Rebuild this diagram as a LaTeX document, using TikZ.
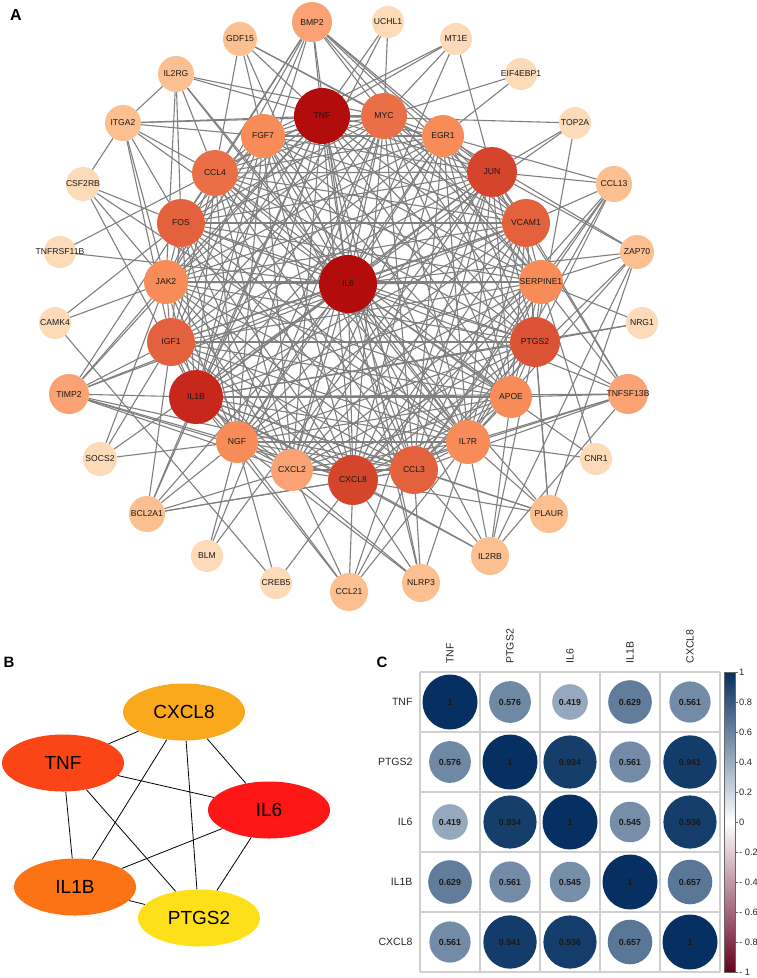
\documentclass[tikz,border=0pt]{standalone}
\usepackage{fontspec}
\setmainfont{Liberation Sans}
\usetikzlibrary{shapes.geometric,backgrounds}
\definecolor{ca}{HTML}{B30C0C}
\definecolor{cb}{HTML}{C8281C}
\definecolor{cc}{HTML}{D5452B}
\definecolor{cd}{HTML}{DC5234}
\definecolor{ce}{HTML}{E4613D}
\definecolor{cf}{HTML}{EB6F46}
\definecolor{cg}{HTML}{F88C58}
\definecolor{ch}{HTML}{FAA273}
\definecolor{ci}{HTML}{FCBF90}
\definecolor{cj}{HTML}{FDDBB9}
\definecolor{edgegray}{HTML}{7F7F7F}
\definecolor{cnavy}{HTML}{053061}
\definecolor{cdred}{HTML}{67001F}
\definecolor{gridgray}{HTML}{CFCFCF}
\definecolor{bcx}{HTML}{FBA91C}
\definecolor{btnf}{HTML}{FC4516}
\definecolor{bil6}{HTML}{FF1616}
\definecolor{bil1b}{HTML}{FB7314}
\definecolor{bptgs}{HTML}{FEE01A}
\begin{document}
\begin{tikzpicture}[x=1pt,y=-1pt,
  gene/.style={circle,inner sep=0pt},
  genetext/.style={text=black!90,font=\fontsize{8.6}{9}\selectfont,inner sep=0pt},
  edge/.style={draw=edgegray,line width=1.1pt},
  bnode/.style={ellipse,inner sep=0pt,minimum width=122pt,minimum height=57pt,font=\fontsize{19}{21}\selectfont},
  bedge/.style={draw=black,line width=0.8pt},
  plabel/.style={font=\bfseries\fontsize{16}{18}\selectfont},
  clab/.style={font=\fontsize{10.5}{12}\selectfont,text=black!85},
  cnum/.style={circle,inner sep=0pt,font=\bfseries\fontsize{8.8}{9}\selectfont,text=black!90},
  tick/.style={font=\fontsize{9.3}{10}\selectfont,text=black!85,anchor=west,inner sep=0pt}]
\useasboundingbox (0,0) rectangle (757,978);
% ---------------- Panel A
\node[plabel] (labA) at (16,15) {A};
\foreach \n/\x/\y/\r/\c in {
 TNF/322/116/28/ca, IL6/348/284/29/ca, IL1B/196/397/27/cb, JUN/492/172/25/cc, CXCL8/353/480/25/cc,
 PTGS2/535/342/25/cd, VCAM1/526/223/24/ce, FOS/181/223/24/ce, IGF1/171/342/24/ce, CCL3/414/470/24/ce,
 MYC/384/116/23/cf, CCL4/215/173/23/cf,
 FGF7/263/136/22/cg, EGR1/443/136/21/cg, JAK2/166/282/22/cg, SERPINE1/541/282/22/cg, NGF/237/442/21/cg,
 APOE/511/397/21/cg, IL7R/468/442/22/cg,
 BMP2/312/22/20/ch, CXCL2/292/470/21/ch, TIMP2/69/394/20/ch, TNFSF13B/628/394/20/ch,
 GDF15/240/39/17/ci, IL2RG/176/74/18/ci, ITGA2/123/123/18/ci, CCL13/614/184/18/ci, ZAP70/637/252/17/ci,
 BCL2A1/147/514/18/ci, PLAUR/549/514/19/ci, IL2RB/490/556/19/ci, NLRP3/421/583/19/ci, CCL21/349/592/19/ci,
 UCHL1/388/22/16/cj, MT1E/456/39/16/cj, EIF4EBP1/521/74/16/cj, TOP2A/575/123/16/cj, CSF2RB/83/184/17/cj,
 TNFRSF11B/60/252/16/cj, CAMK4/55/323/16/cj, SOCS2/100/459/17/cj, BLM/207/556/16/cj, CREB5/276/583/16/cj,
 CNR1/596/459/16/cj, NRG1/642/323/16/cj}
 \node[gene,fill=\c,minimum size=2*\r pt,label={[genetext]center:\n}] (\n) at (\x,\y) {};
\begin{pgfonlayer}{background}
\foreach \a [count=\i] in {TNF,MYC,EGR1,JUN,VCAM1,SERPINE1,PTGS2,APOE,IL7R,CCL3,CXCL8,CXCL2,NGF,IL1B,IGF1,JAK2,FOS,CCL4,FGF7,IL6}{
  \foreach \b [count=\j] in {TNF,MYC,EGR1,JUN,VCAM1,SERPINE1,PTGS2,APOE,IL7R,CCL3,CXCL8,CXCL2,NGF,IL1B,IGF1,JAK2,FOS,CCL4,FGF7,IL6}{
    \ifnum\j>\i \draw[edge] (\a) -- (\b); \fi }}
\foreach \a/\b in {
 BMP2/TNF,BMP2/MYC,BMP2/FGF7,BMP2/CCL4,BMP2/IL6,BMP2/FOS,BMP2/JUN,BMP2/EGR1,BMP2/IL1B,BMP2/JAK2,BMP2/VCAM1,BMP2/SERPINE1,
 UCHL1/MYC,UCHL1/TNF,UCHL1/IL1B,
 MT1E/TNF,MT1E/MYC,MT1E/FGF7,MT1E/IL6,MT1E/JUN,
 EIF4EBP1/MYC,EIF4EBP1/EGR1,
 TOP2A/TNF,TOP2A/JUN,TOP2A/IL6,TOP2A/PTGS2,
 CCL13/EGR1,CCL13/JUN,CCL13/VCAM1,CCL13/SERPINE1,CCL13/PTGS2,CCL13/IL7R,CCL13/CCL3,CCL13/CXCL8,
 ZAP70/JUN,ZAP70/EGR1,ZAP70/SERPINE1,ZAP70/IL6,ZAP70/IL7R,ZAP70/IL2RB,ZAP70/CCL3,
 NRG1/SERPINE1,NRG1/PTGS2,NRG1/IL1B,
 TNFSF13B/PTGS2,TNFSF13B/SERPINE1,TNFSF13B/APOE,TNFSF13B/IL7R,TNFSF13B/CCL3,TNFSF13B/IL6,TNFSF13B/VCAM1,TNFSF13B/JUN,TNFSF13B/CXCL8,TNFSF13B/IL1B,
 CNR1/SERPINE1,CNR1/IL7R,CNR1/IL6,
 PLAUR/IL6,PLAUR/PTGS2,PLAUR/IL7R,PLAUR/CCL3,PLAUR/CXCL8,PLAUR/IL1B,PLAUR/ZAP70,PLAUR/VCAM1,
 IL2RB/IL7R,IL2RB/CCL3,IL2RB/APOE,IL2RB/PTGS2,IL2RB/CXCL8,IL2RB/IL1B,IL2RB/TNFSF13B,IL2RB/IL6,
 NLRP3/CCL3,NLRP3/IL7R,NLRP3/CXCL8,NLRP3/IL1B,NLRP3/TNF,NLRP3/IL6,NLRP3/NGF,
 CCL21/CXCL8,CCL21/CCL3,CCL21/CXCL2,CCL21/NGF,CCL21/IL7R,CCL21/IL1B,CCL21/JUN,
 CREB5/CAMK4,CREB5/NGF,CREB5/CXCL8,
 BLM/NGF,BLM/JUN,BLM/MYC,
 BCL2A1/IL1B,BCL2A1/IGF1,BCL2A1/NGF,BCL2A1/CXCL2,BCL2A1/CXCL8,BCL2A1/CCL3,BCL2A1/TNF,BCL2A1/IL6,
 SOCS2/JAK2,SOCS2/IGF1,SOCS2/NGF,SOCS2/IL6,
 TIMP2/JAK2,TIMP2/IGF1,TIMP2/IL1B,TIMP2/NGF,TIMP2/CXCL2,TIMP2/CCL3,TIMP2/FOS,TIMP2/TNF,TIMP2/IL6,TIMP2/CXCL8,TIMP2/VCAM1,
 CAMK4/JAK2,CAMK4/FOS,
 TNFRSF11B/IL6,TNFRSF11B/TNF,
 CSF2RB/ITGA2,CSF2RB/FOS,CSF2RB/JAK2,CSF2RB/IL1B,CSF2RB/IL7R,
 ITGA2/IL2RG,ITGA2/TNF,ITGA2/FGF7,ITGA2/CCL4,ITGA2/FOS,ITGA2/JAK2,ITGA2/IGF1,ITGA2/IL6,ITGA2/MYC,
 IL2RG/TNF,IL2RG/MYC,IL2RG/CCL4,IL2RG/FOS,IL2RG/JAK2,IL2RG/IL7R,IL2RG/IL6,
 GDF15/TNF,GDF15/FGF7,GDF15/IL6,GDF15/CCL4,GDF15/MYC,GDF15/JUN}
 \draw[edge] (\a) -- (\b);
\end{pgfonlayer}
% ---------------- Panel B
\node[plabel,font=\bfseries\fontsize{15}{17}\selectfont] (labB) at (9,662) {B};
\node[bnode,fill=bcx] (bCXCL8) at (184,712) {CXCL8};
\node[bnode,fill=btnf] (bTNF) at (63,763) {TNF};
\node[bnode,fill=bil6] (bIL6) at (269,810) {IL6};
\node[bnode,fill=bil1b] (bIL1B) at (75,887) {IL1B};
\node[bnode,fill=bptgs] (bPTGS2) at (199,918) {PTGS2};
\begin{pgfonlayer}{background}
\foreach \a/\b in {bTNF/bCXCL8,bCXCL8/bIL6,bCXCL8/bIL1B,bCXCL8/bPTGS2,bTNF/bIL6,bTNF/bIL1B,bTNF/bPTGS2,bIL6/bIL1B,bIL6/bPTGS2,bIL1B/bPTGS2}
  \draw[bedge] (\a) -- (\b);
\end{pgfonlayer}
% ---------------- Panel C
\node[plabel,font=\bfseries\fontsize{15}{17}\selectfont] (labC) at (382,662) {C};
\foreach \i in {0,...,5}{
  \draw[gridgray,line width=1.1pt] (420+60*\i,672) -- (420+60*\i,972);
  \draw[gridgray,line width=1.1pt] (420,672+60*\i) -- (720,672+60*\i);}
\foreach \lab [count=\k] in {TNF,PTGS2,IL6,IL1B,CXCL8}{
  \node[clab,anchor=east] (row\k) at (416,642+60*\k) {\lab};
  \node[clab,anchor=west,rotate=90] (col\k) at (390+60*\k,667) {\lab};}
\foreach \r/\vals in {1/{1,0.576,0.419,0.629,0.561},2/{0.576,1,0.934,0.561,0.941},3/{0.419,0.934,1,0.545,0.936},4/{0.629,0.561,0.545,1,0.657},5/{0.561,0.941,0.936,0.657,1}}{
  \foreach \v [count=\c] in \vals {
    \pgfmathsetmacro\rad{27.5*sqrt(\v)}
    \pgfmathsetmacro\pc{100*\v}
    \node[cnum,fill=cnavy!\pc!white,minimum size=2*\rad pt] (m\r-\c) at (390+60*\c,642+60*\r) {\v};}}
% colour bar
\shade[top color=cnavy,bottom color=cdred,middle color=white] (724,672) rectangle (735,972);
\draw[black!60,line width=0.6pt] (724,672) rectangle (735,972);
\foreach \t/\lab in {1/1,0.8/0.8,0.6/0.6,0.4/0.4,0.2/0.2,0/0,-0.2/- 0.2,-0.4/- 0.4,-0.6/- 0.6,-0.8/- 0.8,-1/- 1}{
  \draw[black!60,line width=0.5pt] (735,{822-150*\t}) -- (738,{822-150*\t});
  \node[tick] at (739,{822-150*\t}) {\lab};}
\end{tikzpicture}
\end{document}
